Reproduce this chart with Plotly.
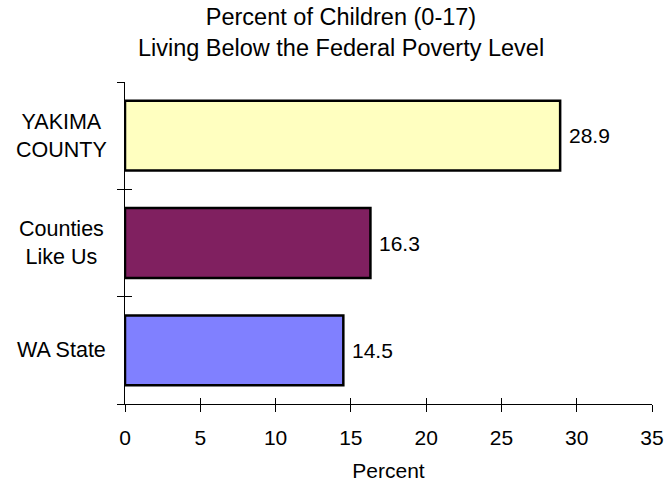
import plotly.graph_objects as go

categories = ["WA State", "Counties Like Us", "YAKIMA COUNTY"]
label_text = ["WA State", "Counties<br>Like Us", "YAKIMA<br>COUNTY"]
values = [14.5, 16.3, 28.9]
colors = ["#8080FF", "#802060", "#FFFFC0"]
x_ticks = [0, 5, 10, 15, 20, 25, 30, 35]

FONT = "Arial, Liberation Sans, sans-serif"
L, R, T, B, W, H = 125, 14, 82, 80, 666, 484

fig = go.Figure()
fig.add_trace(go.Bar(
    x=values, y=categories, orientation="h",
    marker=dict(color=colors, line=dict(color="black", width=2.5)),
    width=0.65, showlegend=False, hoverinfo="skip",
))
# invisible helper traces for overlay axes (inner tick halves)
fig.add_trace(go.Scatter(x=[None], y=[None], xaxis="x2", yaxis="y", showlegend=False))
fig.add_trace(go.Scatter(x=[None], y=[None], xaxis="x", yaxis="y2", showlegend=False))

# value labels
for c, v in zip(categories, values):
    fig.add_annotation(x=v, y=c, text=f"{v:.1f}", showarrow=False,
                       xanchor="left", xshift=7, font=dict(size=21, color="black", family=FONT))
# category labels (centered multi-line)
label_x = (61 - L) / (W - L - R)
for c, t in zip(categories, label_text):
    fig.add_annotation(x=label_x, xref="paper", y=c, yref="y", text=t, showarrow=False,
                       xanchor="center", align="center",
                       font=dict(size=21.5, color="black", family=FONT))

fig.update_layout(
    width=W, height=H,
    margin=dict(l=L, r=R, t=T, b=B),
    paper_bgcolor="white", plot_bgcolor="white",
    font=dict(family=FONT, size=21, color="black"),
    title=dict(text="Percent of Children (0-17)<br>Living Below the Federal Poverty Level",
               x=341/666, xanchor="center", xref="container", y=0.948, yanchor="top",
               font=dict(size=23.5, family=FONT, color="black")),
    xaxis=dict(range=[0, 35], tickvals=x_ticks, ticks="outside", ticklen=7,
               tickcolor="black", tickwidth=1, showline=True, linecolor="black", linewidth=1,
               showgrid=False, zeroline=False, fixedrange=True, automargin=False,
               ticklabelstandoff=8,
               title=dict(text="Percent", font=dict(size=21), standoff=15),
               tickfont=dict(size=21)),
    xaxis2=dict(range=[0, 35], tickvals=x_ticks, ticks="inside", ticklen=6,
                tickcolor="black", tickwidth=1, showticklabels=False, overlaying="x",
                anchor="y", showgrid=False, zeroline=False, showline=False, automargin=False),
    yaxis=dict(type="category", categoryorder="array", categoryarray=categories,
               range=[-0.5, 2.5], tickson="boundaries", ticks="outside", ticklen=7,
               tickcolor="black", tickwidth=1, showticklabels=False, automargin=False,
               showline=True, linecolor="black", linewidth=1, showgrid=False, zeroline=False),
    yaxis2=dict(range=[-0.5, 2.5], tickvals=[-0.5, 0.5, 1.5, 2.5], ticks="inside", ticklen=7,
                tickcolor="black", tickwidth=1, showticklabels=False, overlaying="y",
                anchor="x", showgrid=False, zeroline=False, showline=False, automargin=False),
)

fig.write_html("out.html", config={"displayModeBar": False},
               post_script="document.body.style.margin='0';")
